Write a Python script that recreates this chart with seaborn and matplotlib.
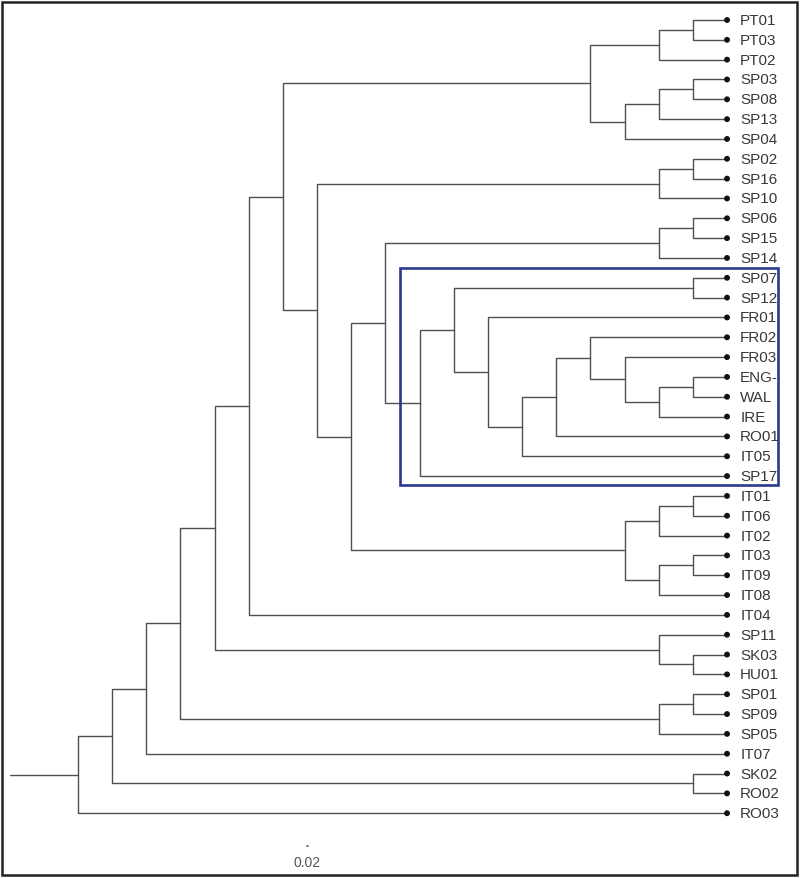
import matplotlib
matplotlib.use("Agg")
import matplotlib.pyplot as plt
from matplotlib.patches import Rectangle
import pandas as pd
import seaborn as sns

# clades, top to bottom (nested pairs = bifurcations)
pt_sp = ((("PT01", "PT03"), "PT02"), ((("SP03", "SP08"), "SP13"), "SP04"))
sp_a = (("SP02", "SP16"), "SP10")
sp_b = (("SP06", "SP15"), "SP14")
boxed = ((("SP07", "SP12"),
          ("FR01", ((("FR02", ("FR03", (("ENG-S", "WAL"), "IRE"))), "RO01"), "IT05"))),
         "SP17")
it_clade = ((("IT01", "IT06"), "IT02"), (("IT03", "IT09"), "IT08"))
sp_sk_hu = ("SP11", ("SK03", "HU01"))
sp_c = (("SP01", "SP09"), "SP05")
sk_ro = ("SK02", "RO02")

west = (pt_sp, (sp_a, ((sp_b, boxed), it_clade)))
tree = (west, "IT04")
tree = (tree, sp_sk_hu)
tree = (tree, sp_c)
tree = (tree, "IT07")
tree = (tree, sk_ro)
tree = (tree, "RO03")

scale_label = "0.02"

sns.set_style("white")
plt.rcParams['font.family'] = ['Liberation Sans', 'DejaVu Sans']

leaves = []


def height(node):
    if isinstance(node, str):
        return 0
    return 1 + max(height(c) for c in node)


max_h = height(tree)
rows = []
leaf_rows = []


def layout(node):
    # returns (x, y); x = depth position (cladogram), y = leaf index
    if isinstance(node, str):
        y = len(leaves)
        leaves.append(node)
        leaf_rows.append({"x": max_h, "y": y, "name": node})
        return max_h, y
    pts = [layout(c) for c in node]
    x = max_h - height(node)
    y = (pts[0][1] + pts[-1][1]) / 2
    for cx, cy in pts:
        seg = len(rows)
        rows.extend([{"seg": seg, "x": x, "y": y},
                     {"seg": seg, "x": x, "y": cy},
                     {"seg": seg, "x": cx, "y": cy}])
    return x, y


rx, ry = layout(tree)
segs = pd.DataFrame(rows)
segs["seg"] = segs.index // 3
stem = pd.DataFrame({"seg": [-1, -1], "x": [rx - 2, rx], "y": [ry, ry]})
segs = pd.concat([stem, segs], ignore_index=True)
tips = pd.DataFrame(leaf_rows)

fig = plt.figure(figsize=(8, 8.79), dpi=100)
ax = fig.add_axes([0, 0, 779 / 800, 1])

sns.lineplot(data=segs, x="x", y="y", units="seg", estimator=None, sort=False,
             color="#505050", linewidth=1.0, ax=ax)
sns.scatterplot(data=tips, x="x", y="y", color="#111111", s=18,
                edgecolor="none", ax=ax, zorder=3)

for _, r in tips.iterrows():
    ax.annotate(r["name"], (r["x"], r["y"]), xytext=(9.5, 0),
                textcoords="offset points", va="center", ha="left",
                fontsize=11, color="#383838", annotation_clip=False,
                clip_on=True)

# highlight box around the British/French/Spanish clade
i0 = leaves.index("SP07") - 0.5
i1 = leaves.index("SP17") + 0.45
ax.add_patch(Rectangle((9.43, i0), 20.5 - 9.43, i1 - i0, fill=False,
                       edgecolor="#2b3a8c", linewidth=1.9, clip_on=False,
                       zorder=4))

# scale bar
ax.plot([6.71, 6.72], [41.65, 41.65], color="#555555", linewidth=1.2)
ax.text(6.715, 42.45, scale_label, ha="center", va="center",
        fontsize=10, color="#555555")

ax.set_xlim(-78 / 34.16, (779 - 78) / 34.16)
ax.set_ylim((879 - 21) / 19.83, -21 / 19.83)
ax.set_axis_off()

fig.add_artist(Rectangle((1.5 / 800, 3 / 879), 795.5 / 800, 873 / 879,
                         transform=fig.transFigure, fill=False,
                         edgecolor="#222222", linewidth=1.8))

fig.savefig("out.png", dpi=100)
